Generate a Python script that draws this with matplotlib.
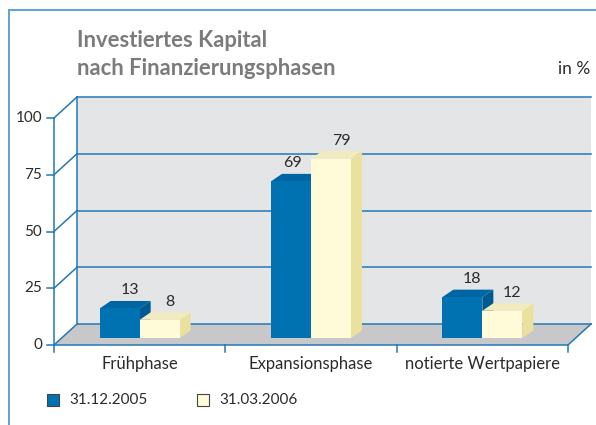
import matplotlib
matplotlib.use("Agg")
import matplotlib.pyplot as plt
from matplotlib.patches import Polygon, Rectangle
from matplotlib.lines import Line2D

plt.rcParams["font.family"] = ["Lato", "DejaVu Sans"]

# data
categories = ["Frühphase", "Expansionsphase", "notierte Wertpapiere"]
series_labels = ["31.12.2005", "31.03.2006"]
values_2005 = [13, 69, 18]
values_2006 = [8, 79, 12]
y_ticks = [0, 25, 50, 75, 100]

# colours: front, top, side
blue = ("#0072b1", "#0066a3", "#005a92")
cream = ("#fffad8", "#f2ebc0", "#ebe19f")
line_blue = "#2378b6"
text_col = "#2b2b2b"

W, H = 596, 425
fig = plt.figure(figsize=(W / 100, H / 100), dpi=100)

# front plane of the chart in pixels
left_px, right_px, zero_px, top_px = 54, 568, 345, 118
ax = fig.add_axes([left_px / W, 1 - zero_px / H,
                   (right_px - left_px) / W, (zero_px - top_px) / H])
n = len(categories)
ax.set_xlim(-0.5, n - 0.5)
ax.set_ylim(0, 100)
ax.axis("off")

ux = (right_px - left_px) / n   # px per category
uy = (zero_px - top_px) / 100   # px per unit

# depth of the box and of the bars (px -> data)
DX, DY = 23 / ux, 21 / uy
BDX, BDY = 11 / ux, 7.5 / uy
BASE = 7 / uy
BW = 40 / ux

x0, x1 = -0.5, n - 0.5

# back wall and floor
ax.add_patch(Polygon([(x0 + DX, DY), (x1 + DX, DY), (x1 + DX, 100 + DY), (x0 + DX, 100 + DY)],
                     closed=True, fc="#e4e5e7", ec="none", clip_on=False, zorder=0))
ax.add_patch(Polygon([(x0, 0), (x1, 0), (x1 + DX, DY), (x0 + DX, DY)],
                     closed=True, fc="#c8c8ca", ec="none", clip_on=False, zorder=0))

lw = 1.1
for v in y_ticks:
    # back gridline
    ax.plot([x0 + DX, x1 + DX], [v + DY, v + DY], color=line_blue, lw=lw, clip_on=False, zorder=1)
    # side diagonal
    ax.plot([x0, x0 + DX], [v, v + DY], color=line_blue, lw=lw, clip_on=False, zorder=1)
    # tick mark
    ax.plot([x0 - 7 / ux, x0], [v, v], color=line_blue, lw=lw, clip_on=False, zorder=1)
    ax.text(x0 - 12 / ux, v, str(v), ha="right", va="center", fontsize=11, color=text_col)

ax.plot([x0, x0], [0, 100], color=line_blue, lw=lw, clip_on=False, zorder=1)
ax.plot([x0 + DX, x0 + DX], [DY, 100 + DY], color=line_blue, lw=lw, clip_on=False, zorder=1)
ax.plot([x0, x1], [0, 0], color=line_blue, lw=lw, clip_on=False, zorder=1)
ax.plot([x1, x1 + DX], [0, DY], color=line_blue, lw=lw, clip_on=False, zorder=1)

for k in range(n + 1):
    ax.plot([x0 + k, x0 + k], [0, -7 / uy], color=line_blue, lw=lw, clip_on=False, zorder=1)
for i, cat in enumerate(categories):
    ax.text(i, -19 / uy, cat, ha="center", va="center", fontsize=12, color=text_col)


def bar3d(xl, val, cols):
    top = BASE + val
    ax.add_patch(Polygon([(xl + BW, BASE), (xl + BW + BDX, BASE + BDY),
                          (xl + BW + BDX, top + BDY), (xl + BW, top)],
                         closed=True, fc=cols[2], ec="none", zorder=3))
    ax.add_patch(Polygon([(xl, top), (xl + BW, top), (xl + BW + BDX, top + BDY), (xl + BDX, top + BDY)],
                         closed=True, fc=cols[1], ec="none", zorder=3))
    ax.add_patch(Rectangle((xl, BASE), BW, val, fc=cols[0], ec="none", zorder=3))


for i in range(n):
    pair = [(values_2005[i], blue), (values_2006[i], cream)]
    for j, (val, cols) in enumerate(pair):
        xl = i - BW + j * BW
        bar3d(xl, val, cols)
        # shift label towards the depth unless the next bar is taller
        shift = 10 / ux
        if j == 0 and values_2006[i] > val:
            shift = 2 / ux
        ax.text(xl + BW / 2 + shift, BASE + val + 18 / uy, str(val),
                ha="center", va="center", fontsize=11.5, color=text_col, zorder=4)

# frame
fig.add_artist(Line2D([9 / W, 1], [1 - 10 / H, 1 - 10 / H], transform=fig.transFigure,
                      color="#5ea3d2", lw=1.4))
fig.add_artist(Line2D([9 / W, 9 / W], [0, 1 - 10 / H], transform=fig.transFigure,
                      color="#5ea3d2", lw=1.4))

# title
fig.text(77 / W, 1 - 47 / H, "Investiertes Kapital", fontsize=15.8, fontweight="bold",
         color="#7b7b7d", ha="left", va="baseline")
fig.text(77 / W, 1 - 75 / H, "nach Finanzierungsphasen", fontsize=15.8, fontweight="bold",
         color="#7b7b7d", ha="left", va="baseline")
fig.text(590 / W, 1 - 74 / H, "in %", fontsize=12.5, color=text_col, ha="right", va="baseline")

# legend
for k, (lab, cols) in enumerate(zip(series_labels, [blue, cream])):
    xs = 47 + k * 150
    fig.add_artist(Rectangle((xs / W, 1 - 406 / H), 12 / W, 12 / H, transform=fig.transFigure,
                             fc=cols[0], ec="#444444", lw=0.8))
    fig.text((xs + 22) / W, 1 - 400 / H, lab, fontsize=11, color=text_col, ha="left", va="center")

fig.savefig("out.png", dpi=100)
